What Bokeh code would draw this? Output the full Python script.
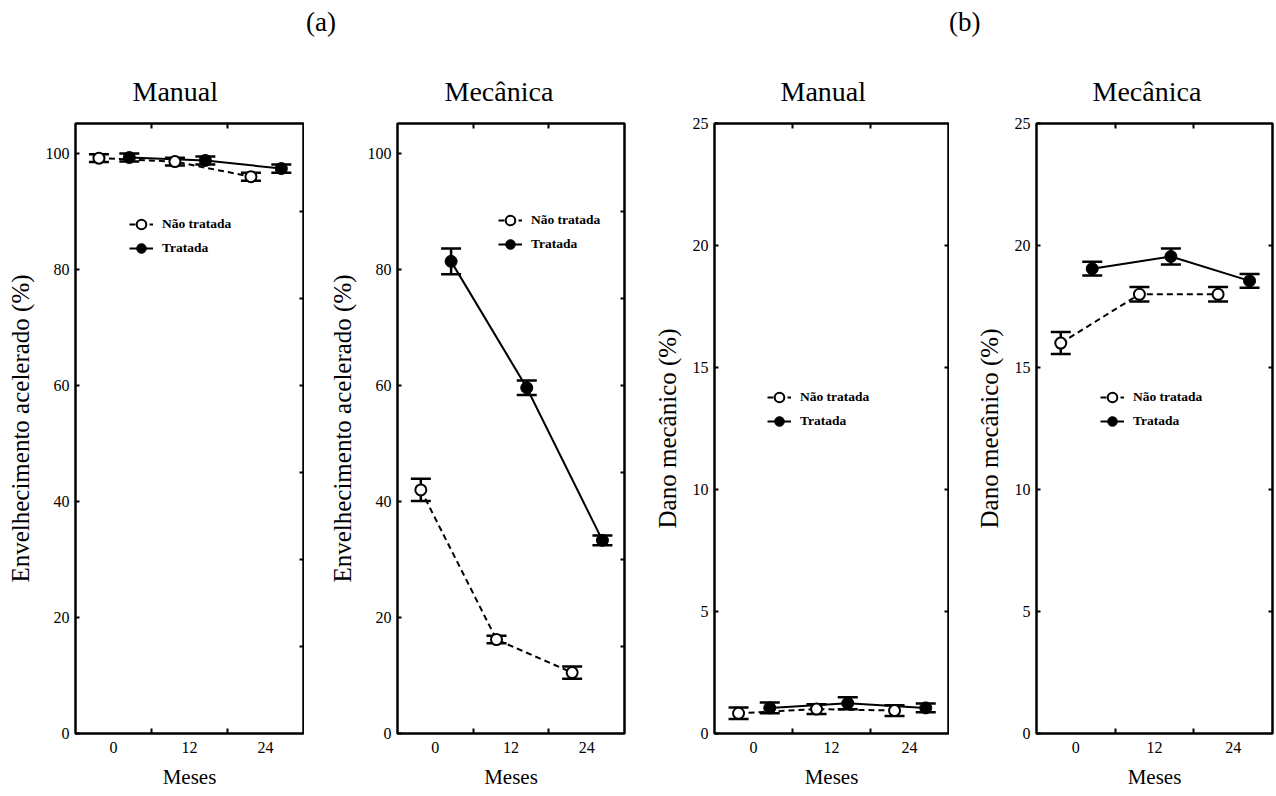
from bokeh.plotting import figure
from bokeh.models import (ColumnDataSource, Whisker, TeeHead, FixedTicker, LinearAxis,
                          Legend, LegendItem, Title, Range1d, Div)
from bokeh.layouts import row, column
from bokeh.embed import file_html
from bokeh.resources import INLINE

FONT = "Liberation Serif"

# ---------------- data ----------------
months = [0, 12, 24]
series_names = ["Não tratada", "Tratada"]
panel_titles = ["Manual", "Mecânica", "Manual", "Mecânica"]
group_tags = ["(a)", "(b)"]
ylabel_a = "Envelhecimento acelerado (%)"
ylabel_b = "Dano mecânico (%)"
xlabel = "Meses"

# (a) Manual - envelhecimento acelerado
a_man_nt = [99.2, 98.6, 96.0]
a_man_nt_err = [0.65, 0.65, 0.7]
a_man_t = [99.3, 98.8, 97.4]
a_man_t_err = [0.7, 0.7, 0.7]

# (a) Mecânica - envelhecimento acelerado
a_mec_nt = [42.0, 16.2, 10.5]
a_mec_nt_err = [1.9, 0.65, 1.05]
a_mec_t = [81.4, 59.6, 33.3]
a_mec_t_err = [2.2, 1.25, 0.85]

# (b) Manual - dano mecânico
b_man_nt = [0.83, 1.0, 0.94]
b_man_nt_err = [0.24, 0.2, 0.22]
b_man_t = [1.05, 1.24, 1.05]
b_man_t_err = [0.22, 0.25, 0.18]

# (b) Mecânica - dano mecânico
b_mec_nt = [16.0, 18.0, 18.0]
b_mec_nt_err = [0.45, 0.3, 0.3]
b_mec_t = [19.05, 19.55, 18.55]
b_mec_t_err = [0.28, 0.33, 0.28]

ticks_a = [0, 20, 40, 60, 80, 100]
rticks_a = [15, 30, 45, 60, 75, 90]
ticks_b = [0, 5, 10, 15, 20, 25]
rticks_b = [5, 10, 15, 20]

# dodge of the two series inside each month group
OFF_NT = -2.3
OFF_T = 2.5


def make_panel(width, mb_left, mb_right, y_end, yticks, rticks, ylabel,
               title, title_offset, nt, nt_err, t, t_err, legend_xy):
    p = figure(width=width, height=744, title=None,
               x_range=Range1d(-6, 30), y_range=Range1d(0, y_end),
               min_border_left=mb_left, min_border_right=mb_right,
               min_border_top=73, min_border_bottom=61,
               x_axis_location=None, y_axis_location=None,
               toolbar_location=None, output_backend="svg")
    p.background_fill_color = "white"
    p.border_fill_color = "white"
    p.outline_line_color = "black"
    p.outline_line_width = 2.5
    p.grid.visible = False

    # bottom axis
    xb = LinearAxis(ticker=FixedTicker(ticks=months, minor_ticks=[6, 18]),
                    axis_label=xlabel)
    xb.axis_line_color = None
    xb.major_tick_in = 0
    xb.major_tick_out = 0
    xb.minor_tick_in = 5
    xb.minor_tick_out = 0
    xb.minor_tick_line_width = 2
    xb.major_label_text_font = FONT
    xb.major_label_text_font_size = "16px"
    xb.major_label_text_color = "black"
    xb.major_label_standoff = 8
    xb.axis_label_text_font = FONT
    xb.axis_label_text_font_size = "21px"
    xb.axis_label_text_font_style = "normal"
    xb.axis_label_text_color = "black"
    xb.axis_label_standoff = 9
    p.add_layout(xb, "below")

    # top axis (ticks only)
    xt = LinearAxis(ticker=FixedTicker(ticks=[], minor_ticks=[6, 18]))
    xt.axis_line_color = None
    xt.major_tick_in = 0
    xt.major_tick_out = 0
    xt.minor_tick_in = 5
    xt.minor_tick_out = 0
    xt.minor_tick_line_width = 2
    xt.major_label_text_font_size = "0px"
    xt.major_label_standoff = 0
    p.add_layout(xt, "above")

    # panel title
    p.add_layout(Title(text=title, align="left", offset=title_offset,
                       standoff=34, text_font=FONT, text_font_size="28px",
                       text_font_style="normal", text_color="black"), "above")

    # left axis
    yl = LinearAxis(ticker=FixedTicker(ticks=yticks, minor_ticks=[]),
                    axis_label=ylabel)
    yl.axis_line_color = None
    yl.major_tick_in = 4
    yl.major_tick_out = 0
    yl.major_tick_line_width = 2
    yl.minor_tick_in = 0
    yl.minor_tick_out = 0
    yl.major_label_text_font = FONT
    yl.major_label_text_font_size = "16px"
    yl.major_label_text_color = "black"
    yl.major_label_standoff = 6
    yl.axis_label_text_font = FONT
    yl.axis_label_text_font_size = "25px"
    yl.axis_label_text_font_style = "normal"
    yl.axis_label_text_color = "black"
    yl.axis_label_standoff = 9
    p.add_layout(yl, "left")

    # right axis (ticks only)
    yr = LinearAxis(ticker=FixedTicker(ticks=[], minor_ticks=rticks))
    yr.axis_line_color = None
    yr.major_tick_in = 0
    yr.major_tick_out = 0
    yr.minor_tick_in = 4
    yr.minor_tick_out = 0
    yr.minor_tick_line_width = 2
    yr.major_label_text_font_size = "0px"
    yr.major_label_standoff = 0
    p.add_layout(yr, "right")

    # series
    def series(vals, errs, off):
        xs = [m + off for m in months]
        return ColumnDataSource(dict(
            x=xs, y=vals,
            lo=[v - e for v, e in zip(vals, errs)],
            hi=[v + e for v, e in zip(vals, errs)]))

    src_nt = series(nt, nt_err, OFF_NT)
    src_t = series(t, t_err, OFF_T)

    for src in (src_nt, src_t):
        p.add_layout(Whisker(source=src, base="x", upper="hi", lower="lo",
                             line_color="black", line_width=2.5,
                             upper_head=TeeHead(size=20, line_color="black", line_width=2.5),
                             lower_head=TeeHead(size=20, line_color="black", line_width=2.5)))

    l_nt = p.line("x", "y", source=src_nt, line_color="black", line_width=2,
                  line_dash="6 4")
    l_t = p.line("x", "y", source=src_t, line_color="black", line_width=2)
    s_nt = p.scatter("x", "y", source=src_nt, marker="circle", size=11,
                     fill_color="white", line_color="black", line_width=2)
    s_t = p.scatter("x", "y", source=src_t, marker="circle", size=12,
                    fill_color="black", line_color="black", line_width=1)

    leg = Legend(items=[LegendItem(label=series_names[0], renderers=[l_nt, s_nt]),
                        LegendItem(label=series_names[1], renderers=[l_t, s_t])],
                 location=legend_xy, glyph_width=24, glyph_height=24,
                 label_height=20, spacing=0, padding=0, margin=0,
                 label_standoff=9, border_line_color=None,
                 background_fill_alpha=0,
                 label_text_font=FONT, label_text_font_size="13.5px",
                 label_text_font_style="bold", label_text_color="black")
    p.add_layout(leg, "center")
    return p


YA = 105.17
p1 = make_panel(304, 75, 1, YA, ticks_a, rticks_a, ylabel_a,
                panel_titles[0], 57,
                a_man_nt, a_man_nt_err, a_man_t, a_man_t_err, (54, 473))
p2 = make_panel(346, 93, 26, YA, ticks_a, rticks_a, ylabel_a,
                panel_titles[1], 47,
                a_mec_nt, a_mec_nt_err, a_mec_t, a_mec_t_err, (101, 477))
p3 = make_panel(299, 63, 1, 25, ticks_b, rticks_b, ylabel_b,
                panel_titles[2], 66,
                b_man_nt, b_man_nt_err, b_man_t, b_man_t_err, (53, 300))
p4 = make_panel(326, 87, 3, 25, ticks_b, rticks_b, ylabel_b,
                panel_titles[3], 56,
                b_mec_nt, b_mec_nt_err, b_mec_t, b_mec_t_err, (64, 300))

span_style = ("position:absolute;top:9px;font-family:'Liberation Serif';"
              "font-size:27px;line-height:27px;color:black;")
header_html = (
    '<div style="position:relative;width:1275px;height:50px;">'
    f'<span style="{span_style}left:306px;">{group_tags[0]}</span>'
    f'<span style="{span_style}left:949px;">{group_tags[1]}</span>'
    '</div>'
)
header = Div(text=header_html, width=1275, height=50, margin=0,
             styles={"margin": "0", "padding": "0"})

layout = column(header, row(p1, p2, p3, p4))
open("out.html", "w").write(file_html(layout, INLINE))
